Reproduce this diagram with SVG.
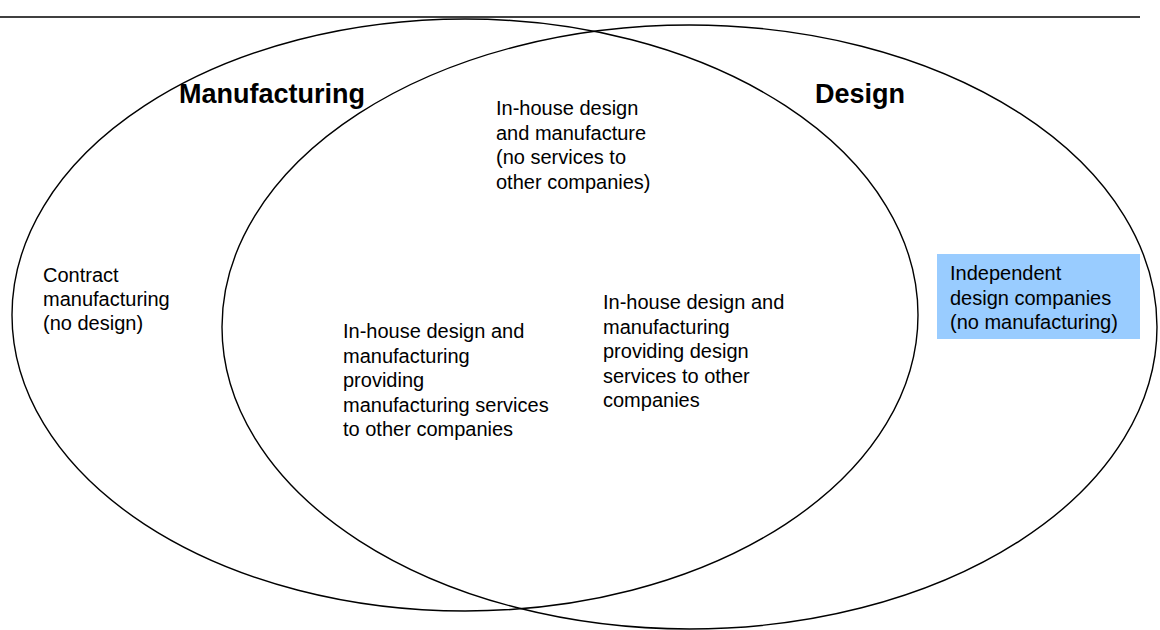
<svg xmlns="http://www.w3.org/2000/svg" width="1160" height="630" viewBox="0 0 1160 630">
<style>
.ring{fill:none;stroke:#000;stroke-width:1.4}
.t{font-family:"Liberation Sans",Arial,sans-serif;font-size:20px;fill:#000}
.h{font-family:"Liberation Sans",Arial,sans-serif;font-size:27px;font-weight:bold;fill:#000}
</style>
<rect width="1160" height="630" fill="#fff"/>
<line x1="0" y1="17" x2="1140" y2="17" stroke="#000" stroke-width="1.3"/>
<g id="manufacturing">
<ellipse class="ring" cx="465" cy="315" rx="453" ry="296"/>
<text class="h" x="179" y="103">Manufacturing</text>
</g>
<g id="design">
<ellipse class="ring" cx="689.5" cy="327" rx="467.5" ry="302"/>
<text class="h" x="815" y="103">Design</text>
</g>
<g id="contract">
<text class="t" x="43" y="282">Contract</text>
<text class="t" x="43" y="306">manufacturing</text>
<text class="t" x="43" y="330">(no design)</text>
</g>
<g id="inhouse">
<text class="t" x="496" y="115">In-house design</text>
<text class="t" x="496" y="139.5">and manufacture</text>
<text class="t" x="496" y="164">(no services to</text>
<text class="t" x="496" y="188.5">other companies)</text>
</g>
<g id="mfg-services">
<text class="t" x="343" y="338">In-house design and</text>
<text class="t" x="343" y="362.5">manufacturing</text>
<text class="t" x="343" y="387">providing</text>
<text class="t" x="343" y="411.5">manufacturing services</text>
<text class="t" x="343" y="436">to other companies</text>
</g>
<g id="design-services">
<text class="t" x="603" y="309">In-house design and</text>
<text class="t" x="603" y="333.5">manufacturing</text>
<text class="t" x="603" y="358">providing design</text>
<text class="t" x="603" y="382.5">services to other</text>
<text class="t" x="603" y="407">companies</text>
</g>
<g id="independent">
<rect x="937" y="254" width="203" height="85" fill="#99CCFF"/>
<text class="t" x="950" y="280">Independent</text>
<text class="t" x="950" y="304.5">design companies</text>
<text class="t" x="950" y="329">(no manufacturing)</text>
</g>
<g id="connectors"/>
</svg>
